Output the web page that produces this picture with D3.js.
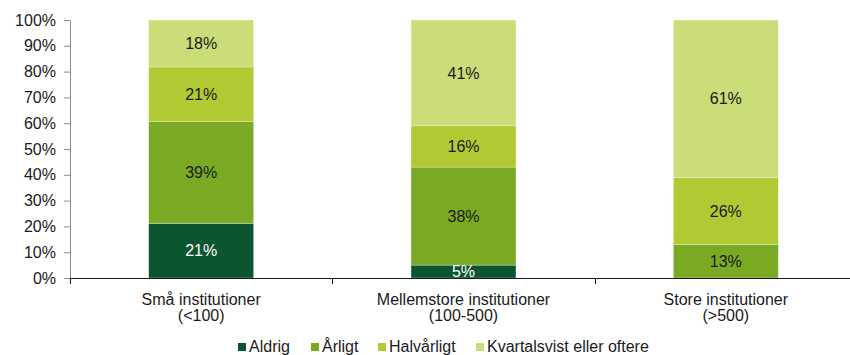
<!DOCTYPE html>
<html>
<head>
<meta charset="utf-8">
<script src="https://cdn.jsdelivr.net/npm/d3@7"></script>
<style>
  body { margin: 0; background: #fff; }
  svg { display: block; font-family: "Liberation Sans", Arial, sans-serif; }
</style>
</head>
<body>
<svg id="chart" width="850" height="355"></svg>
<script>
// Share of institutions by frequency, per institution size
const categories = [["Små institutioner", "(<100)"], ["Mellemstore institutioner", "(100-500)"], ["Store institutioner", "(>500)"]];
const seriesNames = ["Aldrig", "Årligt", "Halvårligt", "Kvartalsvist eller oftere"];
const aldrig = [21, 5, 0];
const aarligt = [39, 38, 13];
const halvaarligt = [21, 16, 26];
const kvartalsvist = [18, 41, 61];
const yTicks = [0, 0.1, 0.2, 0.3, 0.4, 0.5, 0.6, 0.7, 0.8, 0.9, 1];

const colors = ["#0b5530", "#7aaa23", "#b1c933", "#cbdd79"];
const labelColors = ["#ffffff", "#1a1a1a", "#1a1a1a", "#1a1a1a"];
const fontSize = 16;

const rows = categories.map((c, i) => ({
  key: i,
  [seriesNames[0]]: aldrig[i],
  [seriesNames[1]]: aarligt[i],
  [seriesNames[2]]: halvaarligt[i],
  [seriesNames[3]]: kvartalsvist[i]
}));

// 100% stacked layout
const stacked = d3.stack().keys(seriesNames).offset(d3.stackOffsetExpand)(rows);

const svg = d3.select("#chart");
const plotLeft = 70, plotRight = 857, plotTop = 20, plotBottom = 278;
const x = d3.scaleBand().domain(d3.range(categories.length)).range([plotLeft, plotRight]).paddingInner(0.6).paddingOuter(0.3);
const y = d3.scaleLinear().domain([0, 1]).range([plotBottom, plotTop]);

// bars
const layer = svg.append("g").selectAll("g").data(stacked).join("g").attr("fill", (d, i) => colors[i]);
layer.selectAll("rect").data(d => d).join("rect")
  .attr("x", (d, i) => x(i))
  .attr("width", x.bandwidth())
  .attr("y", d => y(d[1]))
  .attr("height", d => Math.max(0, y(d[0]) - y(d[1])))
  .attr("stroke", "#ffffff").attr("stroke-opacity", 0.5).attr("stroke-width", 0.6);

// value labels
stacked.forEach((s, si) => {
  svg.append("g").selectAll("text").data(s.filter(v => v.data[s.key] > 0)).join("text")
    .attr("x", v => x(v.data.key) + x.bandwidth() / 2)
    .attr("y", v => (y(v[0]) + y(v[1])) / 2)
    .attr("dy", "0.36em")
    .attr("text-anchor", "middle")
    .attr("font-size", fontSize)
    .attr("fill", labelColors[si])
    .text(v => v.data[s.key] + "%");
});

// y axis
const yAxis = svg.append("g").attr("transform", `translate(${plotLeft},0)`)
  .call(d3.axisLeft(y).tickValues(yTicks).tickFormat(d3.format(".0%")).tickSize(6).tickSizeOuter(0));
yAxis.select(".domain").attr("stroke", "#8c8c8c");
yAxis.selectAll(".tick line").attr("stroke", "#8c8c8c");
yAxis.selectAll(".tick text").attr("font-size", fontSize).attr("fill", "#1a1a1a").attr("x", -14)
  .attr("font-family", "'Liberation Sans', Arial, sans-serif");

// x axis line with separators between categories
const xAxisG = svg.append("g");
xAxisG.append("line").attr("x1", plotLeft).attr("x2", 850).attr("y1", plotBottom + 0.5).attr("y2", plotBottom + 0.5).attr("stroke", "#1a1a1a");
const bounds = d3.range(categories.length + 1).map(i => plotLeft + i * x.step());
xAxisG.selectAll("line.sep").data(bounds).join("line").attr("class", "sep")
  .attr("x1", d => Math.round(d) + 0.5).attr("x2", d => Math.round(d) + 0.5)
  .attr("y1", plotBottom).attr("y2", plotBottom + 6).attr("stroke", "#1a1a1a");

// category labels
const catText = svg.append("g").selectAll("text").data(categories).join("text")
  .attr("x", (d, i) => x(i) + x.bandwidth() / 2)
  .attr("y", 305)
  .attr("text-anchor", "middle")
  .attr("font-size", fontSize)
  .attr("fill", "#1a1a1a");
catText.selectAll("tspan").data(d => d).join("tspan")
  .attr("x", function () { return d3.select(this.parentNode).attr("x"); })
  .attr("dy", (d, i) => i === 0 ? 0 : 16)
  .text(d => d);

// legend
const legendX = [238, 311, 378, 476];
const legend = svg.append("g").selectAll("g").data(seriesNames).join("g")
  .attr("transform", (d, i) => `translate(${legendX[i]},0)`);
legend.append("rect").attr("x", 0).attr("y", 343).attr("width", 8).attr("height", 8).attr("fill", (d, i) => colors[i]);
legend.append("text").attr("x", 11).attr("y", 352).attr("font-size", fontSize).attr("fill", "#1a1a1a").text(d => d);
</script>
</body>
</html>
